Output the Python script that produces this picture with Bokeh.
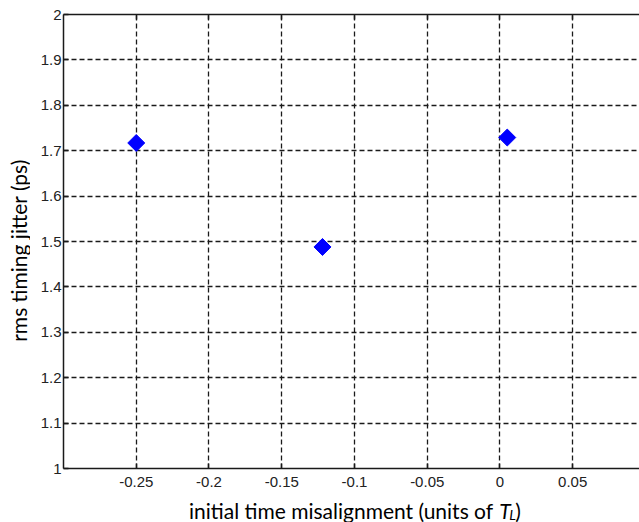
from bokeh.plotting import figure
from bokeh.layouts import column, row
from bokeh.models import FixedTicker, LinearAxis, Range1d, Label, ColumnDataSource
from bokeh.embed import file_html
from bokeh.resources import INLINE
import numpy as np

# ---- data ----
misalignment = [-0.25, -0.122, 0.005]
jitter_ps = [1.717, 1.488, 1.729]

x_ticks = [-0.25, -0.2, -0.15, -0.1, -0.05, 0.0, 0.05]
x_tick_labels = ["-0.25", "-0.2", "-0.15", "-0.1", "-0.05", "0", "0.05"]
y_ticks = [1.0, 1.1, 1.2, 1.3, 1.4, 1.5, 1.6, 1.7, 1.8, 1.9, 2.0]
y_tick_labels = ["1", "1.1", "1.2", "1.3", "1.4", "1.5", "1.6", "1.7", "1.8", "1.9", "2"]

x_label_main = "initial time misalignment (units of"
x_label_sym = "T"
x_label_sub = "L"
x_label_close = ")"
y_label = "rms timing jitter (ps)"

TITLE_FONT = "Lato"
TITLE_SIZE = "21px"
TICK_FONT = "Liberation Sans"
TICK_SIZE = "15px"
AX_COLOR = "#1a1a1a"

LEFT_W = 30
xr = Range1d(-0.3, 0.0959)

p = figure(width=639 - LEFT_W, height=494,
           x_range=xr, y_range=Range1d(1.0, 2.0),
           output_backend="svg", toolbar_location=None,
           min_border_left=63 - LEFT_W, min_border_right=0,
           min_border_top=14, min_border_bottom=26)
p.outline_line_color = None
p.background_fill_color = "white"
p.border_fill_color = "white"

src = ColumnDataSource(dict(x=misalignment, y=jitter_ps))
p.scatter("x", "y", source=src, marker="square", size=12, angle=np.pi / 4,
          fill_color="#0000ff", line_color="#0000ff")

# axes
for ax, ticks, labels in ((p.xaxis[0], x_ticks, x_tick_labels),
                          (p.yaxis[0], y_ticks, y_tick_labels)):
    ax.ticker = FixedTicker(ticks=ticks)
    ax.major_label_overrides = dict(zip(ticks, labels))
    ax.major_tick_in = 5
    ax.major_tick_out = 0
    ax.minor_tick_line_color = None
    ax.axis_line_color = AX_COLOR
    ax.axis_line_width = 1.5
    ax.major_tick_line_color = AX_COLOR
    ax.major_tick_line_width = 1.5
    ax.major_label_text_font = TICK_FONT
    ax.major_label_text_font_size = TICK_SIZE
    ax.major_label_text_color = "#222222"

p.xaxis[0].major_label_standoff = 8
p.yaxis[0].major_label_standoff = 2

top_axis = LinearAxis(ticker=FixedTicker(ticks=x_ticks),
                      major_tick_in=5, major_tick_out=0,
                      major_label_text_font_size="1px", major_label_text_color=None,
                      major_label_standoff=0,
                      axis_line_color=AX_COLOR, axis_line_width=1.5,
                      major_tick_line_color=AX_COLOR, major_tick_line_width=1.5,
                      minor_tick_line_color=None)
p.add_layout(top_axis, "above")

# grid
for g, ticks in ((p.xgrid[0], x_ticks), (p.ygrid[0], y_ticks)):
    g.ticker = FixedTicker(ticks=ticks)
    g.grid_line_color = AX_COLOR
    g.grid_line_dash = "5 3"
    g.grid_line_width = 1.3
    g.grid_line_alpha = 1.0


def strip(width, height, x_range, y_range, left=0):
    f = figure(width=width, height=height, x_range=x_range, y_range=y_range,
               output_backend="svg", toolbar_location=None,
               min_border_left=left, min_border_right=0, min_border_top=0, min_border_bottom=0)
    f.axis.visible = False
    f.grid.visible = False
    f.outline_line_color = None
    f.border_fill_color = "white"
    f.background_fill_color = "white"
    return f


# x axis title strip (italic T with subscript L)
p2 = strip(639 - LEFT_W, 28, xr, Range1d(0, 1), left=63 - LEFT_W)
xt = -0.0047
yt = 0.44
common = dict(x=xt, y=yt, x_units="data", y_units="data",
              text_font=TITLE_FONT, text_color="black", text_baseline="alphabetic")
p2.add_layout(Label(text=x_label_main, text_align="right", text_font_size=TITLE_SIZE, **common))
p2.add_layout(Label(text=x_label_sym, text_align="left", x_offset=6, text_font_size=TITLE_SIZE,
                    text_font_style="italic", **common))
p2.add_layout(Label(text=x_label_sub, text_align="left", x_offset=16, y_offset=-4,
                    text_font_size="14px", text_font_style="italic", **common))
p2.add_layout(Label(text=x_label_close, text_align="left", x_offset=22, text_font_size=TITLE_SIZE,
                    **common))

# y axis title strip
pl = strip(LEFT_W, 522, Range1d(0, LEFT_W), Range1d(0, 522))
pl.add_layout(Label(x=17.5, y=272, x_units="data", y_units="data", text=y_label,
                    angle=np.pi / 2, text_align="center", text_baseline="middle",
                    text_font=TITLE_FONT, text_font_size=TITLE_SIZE, text_color="black"))

layout = row(pl, column(p, p2, spacing=0), spacing=0)
open("out.html", "w").write(file_html(layout, INLINE))
